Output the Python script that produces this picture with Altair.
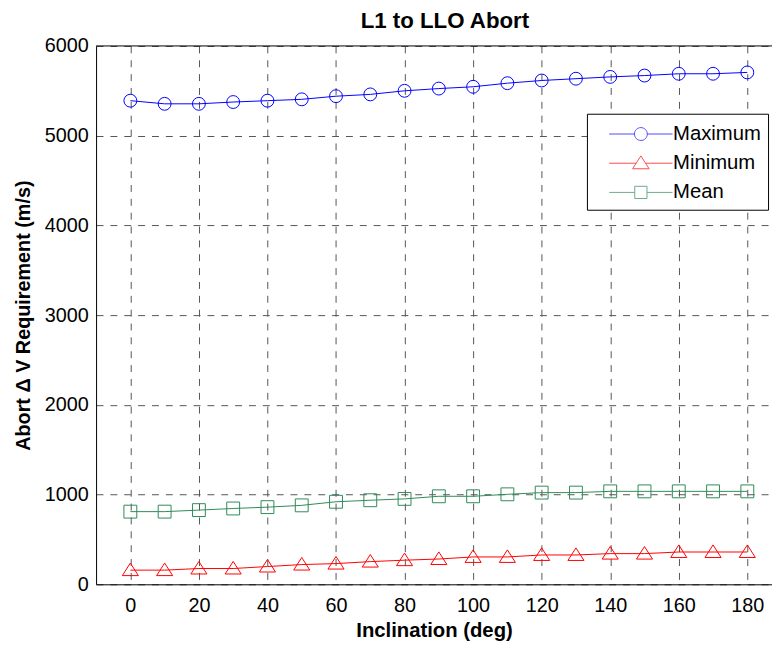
import altair as alt
import pandas as pd

# ---- data ----
incl = [0, 10, 20, 30, 40, 50, 60, 70, 80, 90, 100, 110, 120, 130, 140, 150, 160, 170, 180]
maximum = [5390, 5355, 5355, 5375, 5390, 5405, 5440, 5460, 5500, 5525, 5545,
           5585, 5615, 5635, 5655, 5670, 5690, 5690, 5705]
minimum = [158, 158, 176, 176, 198, 220, 231, 253, 269, 282, 305,
           305, 327, 327, 342, 342, 360, 360, 360]
mean = [810, 810, 827, 845, 860, 880, 920, 937, 952, 981, 981,
        1003, 1022, 1022, 1036, 1036, 1036, 1036, 1036]

series_names = ["Maximum", "Minimum", "Mean"]
colors = ["#0000ff", "#ff0000", "#2e8b57"]
x_ticks = [0, 20, 40, 60, 80, 100, 120, 140, 160, 180]
y_ticks = [0, 1000, 2000, 3000, 4000, 5000, 6000]

rows = []
for name, vals in zip(series_names, [maximum, minimum, mean]):
    for x, v in zip(incl, vals):
        rows.append({"incl": x, "dv": v, "series": name})
df = pd.DataFrame(rows)

FONT = "Liberation Sans"

x_scale = alt.Scale(domain=[-10, 187.2], nice=False, zero=False)
y_scale = alt.Scale(domain=[0, 6000], nice=False, zero=False)

x_axis = alt.Axis(values=x_ticks, title="Inclination (deg)", grid=True, format="d",
                  ticks=False, labelPadding=11, titlePadding=6, titleFontSize=20.5)
y_axis = alt.Axis(values=y_ticks, title="Abort \u0394 V Requirement (m/s)", grid=True,
                  format="d", ticks=False, labelPadding=8, titlePadding=11,
                  titleFontSize=20)

color_scale = alt.Scale(domain=series_names, range=colors)

# marker shapes on the plot
point_shapes = ["circle", "M0,-1.1L1.25,0.85L-1.25,0.85Z", "square"]

# legend symbols: line with marker
leg_shapes = [
    "M-2.46,0L-0.5,0M0.5,0L2.46,0M-0.5,0A0.5,0.5,0,1,1,0.5,0A0.5,0.5,0,1,1,-0.5,0",
    "M-2.46,0L-0.365,0M0.365,0L2.46,0M0,-0.57L0.64,0.43L-0.64,0.43Z",
    "M-2.46,0L-0.475,0M0.475,0L2.46,0M-0.475,-0.475L0.475,-0.475L0.475,0.475L-0.475,0.475Z",
]

base = alt.Chart(df)

lines = base.mark_line(strokeWidth=1, clip=True).encode(
    x=alt.X("incl:Q", scale=x_scale, axis=x_axis),
    y=alt.Y("dv:Q", scale=y_scale, axis=y_axis),
    color=alt.Color("series:N", scale=color_scale, legend=None),
    detail="series:N",
)

points = base.mark_point(filled=False, strokeWidth=1, size=169, opacity=1, clip=True).encode(
    x=alt.X("incl:Q", scale=x_scale),
    y=alt.Y("dv:Q", scale=y_scale),
    color=alt.Color("series:N", scale=color_scale, legend=None),
    shape=alt.Shape("series:N", scale=alt.Scale(domain=series_names, range=point_shapes), legend=None),
)

top_rule = alt.Chart(pd.DataFrame({"v": [6000]})).mark_rule(color="black", strokeWidth=1).encode(
    y=alt.Y("v:Q", scale=y_scale)
)

leg = dict(title=None, orient="none", legendX=496, legendY=68.5,
           symbolSize=676, symbolStrokeWidth=1,
           symbolOffset=34, labelOffset=19,
           labelFont=FONT, labelFontSize=20.5, labelColor="black",
           labelExpr="datum.label + '\u00a0'",
           rowPadding=5.5, padding=7,
           strokeColor="black", fillColor="white", labelLimit=300)

legend_layer = base.transform_filter("false").mark_point(filled=False, strokeWidth=1, size=676).encode(
    x=alt.X("incl:Q", scale=x_scale),
    y=alt.Y("dv:Q", scale=y_scale),
    color=alt.Color("series:N", scale=alt.Scale(domain=series_names, range=colors),
                    legend=alt.Legend(**leg)),
    shape=alt.Shape("series:N", scale=alt.Scale(domain=series_names, range=leg_shapes),
                    legend=alt.Legend(**leg)),
)

chart = alt.layer(top_rule, lines, points, legend_layer).resolve_scale(
    color="independent", shape="independent"
).properties(
    width=683,
    height=544,
    autosize=alt.AutoSizeParams(type="none"),
    padding={"left": 89, "top": 35, "right": 0, "bottom": 60},
    title=alt.TitleParams("L1 to LLO Abort", font=FONT, fontSize=22.5, fontWeight="bold",
                          anchor="middle", frame="group", baseline="alphabetic",
                          offset=0, dy=14, dx=11, color="black"),
    background="white",
).configure_view(stroke=None).configure_axis(
    labelFont=FONT, labelFontSize=20, labelColor="black",
    titleFont=FONT, titleFontWeight="bold", titleColor="black",
    domainColor="black", domainWidth=1,
    gridColor="#555555", gridDash=[7, 7], gridWidth=1, gridOpacity=1,
)

chart.save("out.html", embed_options={"renderer": "svg", "actions": False})
